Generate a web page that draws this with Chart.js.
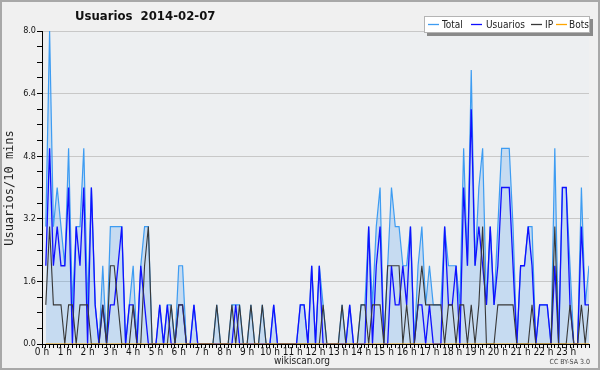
<!DOCTYPE html>
<html>
<head>
<meta charset="utf-8">
<script src="https://cdn.jsdelivr.net/npm/chart.js@4.4.0/dist/chart.umd.min.js"></script>
<style>
  html, body { margin: 0; padding: 0; background: #f0f0f0; }
  #wrap { width: 600px; height: 370px; }
</style>
</head>
<body>
<div id="wrap"><canvas id="myChart" width="600" height="370"></canvas></div>
<script>
// tick labels, one per hour (a point every 10 minutes, stamped at the end of its slot)
const hourLabels = ['0 h','1 h','2 h','3 h','4 h','5 h','6 h','7 h','8 h','9 h','10 h','11 h',
                    '12 h','13 h','14 h','15 h','16 h','17 h','18 h','19 h','20 h','21 h','22 h','23 h'];
const seriesNames = ['Total', 'Usuarios', 'IP', 'Bots'];

const total = [
  3,8,3,4,3,2, 5,1,3,3,5,1, 4,1,0,2,0,3, 3,3,3,0,1,2,
  0,2,3,3,0,0, 1,0,1,1,0,2, 2,0,0,1,0,0, 0,0,0,1,0,0,
  0,1,1,1,0,0, 1,0,0,1,0,0, 1,0,0,0,0,0, 0,1,1,0,2,0,
  2,1,0,0,0,0, 1,0,1,0,0,1, 1,3,1,3,4,0, 2,4,3,3,2,2,
  3,0,2,3,1,2, 1,1,1,3,2,2, 2,1,5,2,7,2, 4,5,1,3,1,3,
  5,5,5,3,0,2, 2,3,3,0,1,1, 1,0,5,0,4,4, 2,0,0,4,1,2
];
const usuarios = [
  2,5,2,3,2,2, 4,0,3,2,4,0, 4,1,0,1,0,1, 1,2,3,0,1,1,
  0,2,1,0,0,0, 1,0,1,0,0,1, 1,0,0,1,0,0, 0,0,0,0,0,0,
  0,0,1,0,0,0, 0,0,0,0,0,0, 1,0,0,0,0,0, 0,1,1,0,2,0,
  2,0,0,0,0,0, 0,0,1,0,0,0, 0,3,0,2,3,0, 0,2,1,1,2,1,
  3,0,1,1,0,1, 0,0,0,3,1,1, 2,0,4,2,6,2, 3,2,1,3,1,2,
  4,4,4,2,0,2, 2,3,2,0,1,1, 1,0,2,0,4,4, 1,0,0,3,1,1
];
const ip = [
  1,3,1,1,1,0, 1,1,0,1,1,1, 0,0,0,1,0,2, 2,1,0,0,0,1,
  0,0,2,3,0,0, 0,0,0,1,0,1, 1,0,0,0,0,0, 0,0,0,1,0,0,
  0,1,0,1,0,0, 1,0,0,1,0,0, 0,0,0,0,0,0, 0,0,0,0,0,0,
  0,1,0,0,0,0, 1,0,0,0,0,1, 1,0,1,1,1,0, 2,2,2,2,0,1,
  0,0,1,2,1,1, 1,1,1,0,1,1, 0,1,1,0,1,0, 1,3,0,0,0,1,
  1,1,1,1,0,0, 0,0,1,0,0,0, 0,0,3,0,0,0, 1,0,0,1,0,1
];
const bots = [
  0,0,0,0,0,0, 0,0,0,0,0,0, 0,0,0,0,0,0, 0,0,0,0,0,0,
  0,0,0,0,0,0, 0,0,0,0,0,0, 0,0,0,0,0,0, 0,0,0,0,0,0,
  0,0,0,0,0,0, 0,0,0,0,0,0, 0,0,0,0,0,0, 0,0,0,0,0,0,
  0,0,0,0,0,0, 0,0,0,0,0,0, 0,0,0,0,0,0, 0,0,0,0,0,0,
  0,0,0,0,0,0, 0,0,0,0,0,0, 0,0,0,0,0,0, 0,0,0,0,0,0,
  0,0,0,0,0,0, 0,0,0,0,0,0, 0,0,0,0,0,0, 0,0,0,0,0,0
];
const yTicks = [0, 1.6, 3.2, 4.8, 6.4, 8.0];

const colTotal = '#3d9cf2';
const colUsers = '#1010ff';
const colIp = '#383838';
const colBots = '#ffa500';
const condensed = '"DejaVu Sans Condensed", "DejaVu Sans", sans-serif';

// slot i ends at (i + 1) * 10 min
function toPoints(arr) {
    return arr.map((v, i) => ({ x: i + 1, y: v }));
}
function isMajor(v) {
    return yTicks.some(t => Math.abs(t - v) < 1e-6);
}

const decor = {
    id: 'decor',
    beforeDraw(chart) {
        const c = chart.ctx, a = chart.chartArea;
        c.save();
        c.fillStyle = '#f0f0f0';
        c.fillRect(0, 0, chart.width, chart.height);
        c.fillStyle = '#edeff1';
        c.fillRect(a.left, a.top, a.right - a.left, a.bottom - a.top);
        c.restore();
    },
    afterDraw(chart) {
        const c = chart.ctx;
        c.save();
        // frame
        c.strokeStyle = '#a8a8a8';
        c.lineWidth = 2;
        c.strokeRect(1, 1, chart.width - 2, chart.height - 2);

        // title
        c.fillStyle = '#111';
        c.font = 'bold 13px ' + condensed;
        c.textBaseline = 'middle';
        c.textAlign = 'left';
        c.fillText('Usuarios  2014-02-07', 75, 17);

        // y title
        c.save();
        c.translate(10, 188);
        c.rotate(-Math.PI / 2);
        c.textAlign = 'center';
        c.font = '12px "DejaVu Sans Mono", monospace';
        c.fillStyle = '#222';
        c.fillText('Usuarios/10 mins', 0, 0);
        c.restore();

        // x title + licence
        c.textAlign = 'center';
        c.font = '10px ' + condensed;
        c.fillStyle = '#222';
        c.fillText('wikiscan.org', 302, 361);
        c.textAlign = 'right';
        c.font = '7px ' + condensed;
        c.fillStyle = '#444';
        c.fillText('CC BY-SA 3.0', 590, 362);

        // legend box with shadow
        c.fillStyle = '#8a8a8a';
        c.fillRect(427, 19, 166, 17);
        c.fillStyle = '#ffffff';
        c.fillRect(424, 16, 166, 17);
        c.strokeStyle = '#b4b4b4';
        c.lineWidth = 1;
        c.strokeRect(424.5, 16.5, 165, 16);

        const items = [
            { name: seriesNames[0], col: colTotal, lx: 428, tx: 442 },
            { name: seriesNames[1], col: colUsers, lx: 471, tx: 486 },
            { name: seriesNames[2], col: colIp, lx: 531, tx: 545 },
            { name: seriesNames[3], col: colBots, lx: 556, tx: 569 }
        ];
        c.font = '10px ' + condensed;
        c.textAlign = 'left';
        items.forEach(it => {
            c.strokeStyle = it.col;
            c.lineWidth = 1.3;
            c.beginPath();
            c.moveTo(it.lx, 24.5);
            c.lineTo(it.lx + 11, 24.5);
            c.stroke();
            c.fillStyle = '#222';
            c.fillText(it.name, it.tx, 25);
        });
        c.restore();
    }
};

const ctx = document.getElementById('myChart').getContext('2d');
new Chart(ctx, {
    type: 'line',
    data: {
        datasets: [
            {
                label: seriesNames[0],
                data: toPoints(total),
                borderColor: colTotal,
                backgroundColor: 'rgba(60,150,240,0.22)',
                borderWidth: 1.2,
                fill: 'origin',
                order: 4
            },
            {
                label: seriesNames[1],
                data: toPoints(usuarios),
                borderColor: colUsers,
                borderWidth: 1.3,
                fill: false,
                order: 3
            },
            {
                label: seriesNames[2],
                data: toPoints(ip),
                borderColor: colIp,
                borderWidth: 1.1,
                fill: false,
                order: 2
            },
            {
                label: seriesNames[3],
                data: toPoints(bots),
                borderColor: colBots,
                borderWidth: 1,
                fill: false,
                order: 1
            }
        ]
    },
    options: {
        responsive: false,
        animation: false,
        events: [],
        elements: { point: { radius: 0 }, line: { tension: 0 } },
        layout: { padding: { left: 0, right: 11, top: 31, bottom: 0 } },
        plugins: {
            legend: { display: false },
            title: { display: false },
            tooltip: { enabled: false }
        },
        scales: {
            x: {
                type: 'linear',
                min: 0,
                max: hourLabels.length * 6,
                z: 1,
                afterFit: s => { s.height = 26; },
                grid: {
                    drawOnChartArea: false,
                    drawTicks: true,
                    tickLength: 4,
                    tickColor: '#000'
                },
                border: { display: true, color: '#000', width: 1 },
                ticks: {
                    stepSize: 1,
                    autoSkip: false,
                    maxRotation: 0,
                    padding: -2,
                    color: '#111',
                    font: { family: condensed, size: 10 },
                    callback: v => (v % 6 === 0 && v / 6 < hourLabels.length ? hourLabels[v / 6] : '')
                }
            },
            y: {
                min: 0,
                max: 8,
                afterFit: s => { s.width = 42; },
                grid: {
                    color: c => (isMajor(c.tick.value) ? '#c8c8c8' : 'rgba(0,0,0,0)'),
                    tickColor: '#000',
                    tickLength: 5,
                    lineWidth: 1
                },
                border: { display: true, color: '#000', width: 1 },
                ticks: {
                    stepSize: 0.4,
                    autoSkip: false,
                    padding: 1,
                    color: '#111',
                    font: { family: condensed, size: 9 },
                    callback: v => (isMajor(v) ? v.toFixed(1) : '')
                }
            }
        }
    },
    plugins: [decor]
});
</script>
</body>
</html>
